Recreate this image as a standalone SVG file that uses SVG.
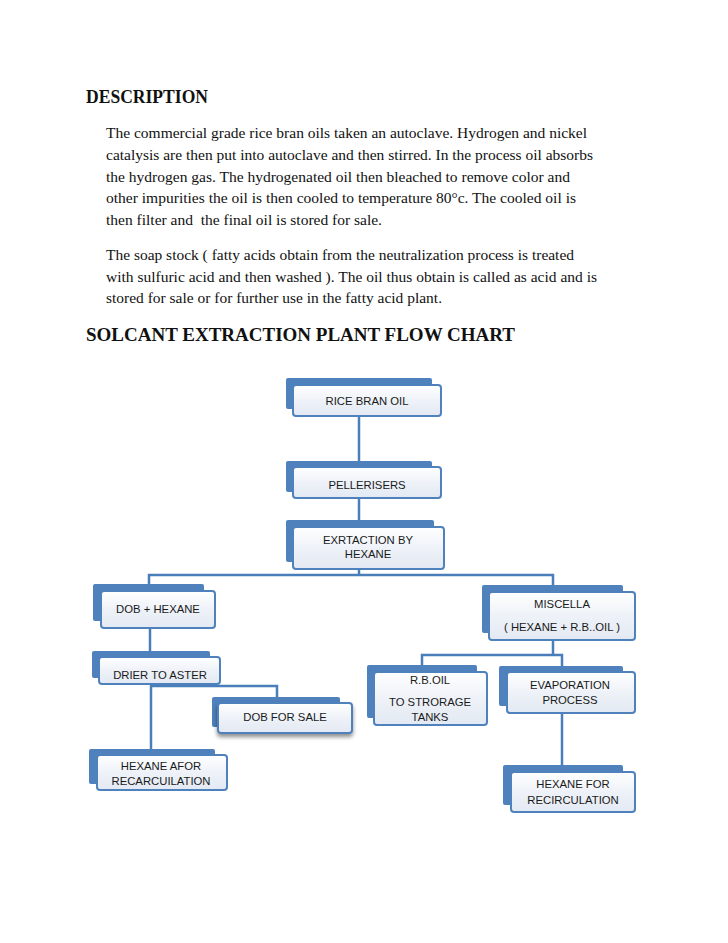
<svg xmlns="http://www.w3.org/2000/svg" width="728" height="943" viewBox="0 0 728 943">
<defs>
<linearGradient id="g" x1="0" y1="0" x2="0" y2="1">
<stop offset="0" stop-color="#ffffff"/>
<stop offset="0.5" stop-color="#eef2f8"/>
<stop offset="1" stop-color="#e3e9f3"/>
</linearGradient>
<filter id="sh" x="-10%" y="-20%" width="120%" height="160%">
<feGaussianBlur in="SourceAlpha" stdDeviation="2"/>
<feOffset dy="3" result="b"/>
<feComponentTransfer><feFuncA type="linear" slope="0.45"/></feComponentTransfer>
<feMerge><feMergeNode/><feMergeNode in="SourceGraphic"/></feMerge>
</filter>
</defs>
<style>
.h{font-family:"Liberation Serif","Times New Roman",serif;font-weight:bold;font-size:18.5px;fill:#111}
.p{font-family:"Liberation Serif","Times New Roman",serif;font-size:15.5px;fill:#111}
.bk{fill:#4f81bd}
.fr{fill:url(#g);stroke:#4f81bd;stroke-width:2}
.t{font-family:"Liberation Sans",Arial,sans-serif;font-size:11.3px;fill:#1a1a1a;text-anchor:middle}
.c{fill:none;stroke:#4a7ebb;stroke-width:2.5}
</style>
<rect width="728" height="943" fill="#ffffff"/>
<text class="h" x="86" y="103" textLength="122" lengthAdjust="spacingAndGlyphs">DESCRIPTION</text>
<text class="p" x="106" y="138" textLength="481" lengthAdjust="spacingAndGlyphs">The commercial grade rice bran oils taken an autoclave. Hydrogen and nickel</text>
<text class="p" x="106" y="160" textLength="487" lengthAdjust="spacingAndGlyphs">catalysis are then put into autoclave and then stirred. In the process oil absorbs</text>
<text class="p" x="106" y="182" textLength="464" lengthAdjust="spacingAndGlyphs">the hydrogen gas. The hydrogenated oil then bleached to remove color and</text>
<text class="p" x="106" y="203" textLength="470" lengthAdjust="spacingAndGlyphs">other impurities the oil is then cooled to temperature 80°c. The cooled oil is</text>
<text class="p" x="106" y="225" textLength="276" lengthAdjust="spacingAndGlyphs" xml:space="preserve">then filter and  the final oil is stored for sale.</text>
<text class="p" x="106" y="260" textLength="468" lengthAdjust="spacingAndGlyphs">The soap stock ( fatty acids obtain from the neutralization process is treated</text>
<text class="p" x="106" y="282" textLength="491" lengthAdjust="spacingAndGlyphs">with sulfuric acid and then washed ). The oil thus obtain is called as acid and is</text>
<text class="p" x="106" y="303" textLength="336" lengthAdjust="spacingAndGlyphs">stored for sale or for further use in the fatty acid plant.</text>
<text class="h" x="86" y="341" textLength="429" lengthAdjust="spacingAndGlyphs">SOLCANT EXTRACTION PLANT FLOW CHART</text>

<g id="connectors">
<path class="c" d="M359,416 V461"/>
<path class="c" d="M359,498 V520"/>
<path class="c" d="M359,569 V575"/>
<path class="c" d="M149,584 V575 H553 V585"/>
<path class="c" d="M150,628 V651"/>
<path class="c" d="M152,684 V686 H277 V697"/>
<path class="c" d="M151,684 V749"/>
<path class="c" d="M553,640 V655"/>
<path class="c" d="M422,665 V655 H562 V666"/>
<path class="c" d="M562,713 V765"/>
</g>

<g id="rice-bran-oil">
<rect class="bk" x="286" y="378" width="146" height="31" rx="2"/>
<rect class="fr" x="293" y="385" width="148" height="31" rx="3"/>
<text class="t" x="367" y="405">RICE BRAN OIL</text>
</g>
<g id="pellerisers">
<rect class="bk" x="286" y="461" width="146" height="31" rx="2"/>
<rect class="fr" x="293" y="467" width="148" height="31" rx="3"/>
<text class="t" x="367" y="489">PELLERISERS</text>
</g>
<g id="extraction">
<rect class="bk" x="286" y="520" width="148" height="42" rx="2"/>
<rect class="fr" x="293" y="527" width="151" height="42" rx="3"/>
<text class="t" x="368" y="544">EXRTACTION BY</text>
<text class="t" x="368" y="558">HEXANE</text>
</g>
<g id="dob-hexane">
<rect class="bk" x="93" y="584" width="111" height="37" rx="2"/>
<rect class="fr" x="101" y="591" width="114" height="37" rx="3"/>
<text class="t" x="158" y="613">DOB + HEXANE</text>
</g>
<g id="drier">
<rect class="bk" x="92" y="651" width="118" height="27" rx="2"/>
<rect class="fr" x="99" y="657" width="121" height="27" rx="3"/>
<text class="t" x="160" y="679">DRIER TO ASTER</text>
</g>
<g id="dob-sale">
<rect class="bk" x="212" y="697" width="128" height="30" rx="2"/>
<rect class="fr" x="218" y="703" width="134" height="30" rx="3" filter="url(#sh)"/>
<text class="t" x="285" y="721">DOB FOR SALE</text>
</g>
<g id="hexane-afor">
<rect class="bk" x="89" y="749" width="126" height="35" rx="2"/>
<rect class="fr" x="97" y="755" width="130" height="35" rx="3"/>
<text class="t" x="161" y="770">HEXANE AFOR</text>
<text class="t" x="161" y="785">RECARCUILATION</text>
</g>
<g id="miscella">
<rect class="bk" x="482" y="585" width="141" height="48" rx="2"/>
<rect class="fr" x="489" y="592" width="146" height="48" rx="3"/>
<text class="t" x="562" y="608">MISCELLA</text>
<text class="t" x="562" y="631">( HEXANE + R.B..OIL )</text>
</g>
<g id="rb-oil">
<rect class="bk" x="367" y="665" width="110" height="53" rx="2"/>
<rect class="fr" x="374" y="672" width="113" height="53" rx="3"/>
<text class="t" x="430" y="684">R.B.OIL</text>
<text class="t" x="430" y="706">TO STRORAGE</text>
<text class="t" x="430" y="721">TANKS</text>
</g>
<g id="evaporation">
<rect class="bk" x="499" y="666" width="124" height="40" rx="2"/>
<rect class="fr" x="507" y="672" width="128" height="41" rx="3"/>
<text class="t" x="570" y="689">EVAPORATION</text>
<text class="t" x="570" y="704">PROCESS</text>
</g>
<g id="hexane-recirculation">
<rect class="bk" x="503" y="765" width="120" height="40" rx="2"/>
<rect class="fr" x="511" y="772" width="124" height="40" rx="3"/>
<text class="t" x="573" y="788">HEXANE FOR</text>
<text class="t" x="573" y="804">RECIRCULATION</text>
</g>
</svg>
